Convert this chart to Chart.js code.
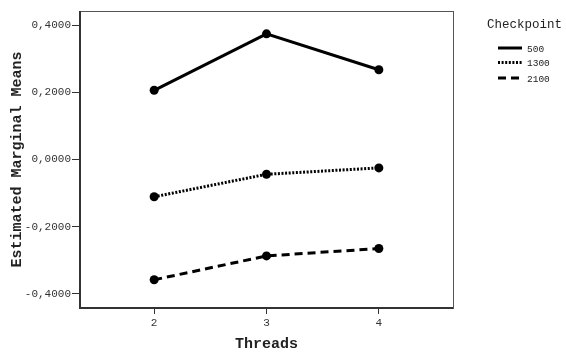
<!DOCTYPE html>
<html>
<head>
<meta charset="utf-8">
<script src="https://cdn.jsdelivr.net/npm/chart.js@4/dist/chart.umd.min.js"></script>
<style>
  html, body { margin: 0; padding: 0; background: #fff; }
  #wrap { width: 566px; height: 354px; }
</style>
</head>
<body>
<div id="wrap"><canvas id="myChart" width="566" height="354"></canvas></div>
<script>
// estimated marginal means per thread count, one series per checkpoint
var threads = [2, 3, 4];
var checkpoints = ['500', '1300', '2100'];
var means500 = [0.206, 0.374, 0.267];
var means1300 = [-0.111, -0.044, -0.025];
var means2100 = [-0.358, -0.287, -0.265];
var yTicks = [-0.4, -0.2, 0, 0.2, 0.4];

var FONT = '"Liberation Mono", "Courier New", monospace';
var dashes = [[], [2, 1.6], [8, 5]];
var series = [means500, means1300, means2100];

function toPoints(vals) {
  return threads.map(function (t, i) { return { x: t, y: vals[i] }; });
}

var datasets = checkpoints.map(function (name, i) {
  return {
    label: name,
    data: toPoints(series[i]),
    borderColor: '#000',
    backgroundColor: '#000',
    borderWidth: 3,
    borderDash: dashes[i],
    pointRadius: 4.5,
    pointHoverRadius: 4.5,
    pointBorderWidth: 0,
    tension: 0
  };
});

// frame round the plot area
var framePlugin = {
  id: 'frame',
  afterDraw: function (chart) {
    var a = chart.chartArea, ctx = chart.ctx;
    ctx.save();
    ctx.strokeStyle = '#555';
    ctx.lineWidth = 1;
    ctx.strokeRect(a.left + 0.5, a.top + 0.5, a.right - a.left, a.bottom - a.top);
    ctx.strokeStyle = '#333';
    ctx.lineWidth = 2;
    ctx.beginPath();
    ctx.moveTo(a.left, a.top);
    ctx.lineTo(a.left, a.bottom);
    ctx.lineTo(a.right, a.bottom);
    ctx.stroke();
    ctx.restore();
  }
};

// legend on the right, drawn from the dataset styles
var legendPlugin = {
  id: 'sideLegend',
  afterDraw: function (chart) {
    var ctx = chart.ctx;
    var rows = [48, 62.5, 78];
    ctx.save();
    ctx.fillStyle = '#222';
    ctx.font = '12.5px ' + FONT;
    ctx.textBaseline = 'middle';
    ctx.textAlign = 'left';
    ctx.fillText('Checkpoint', 487, 25);
    ctx.font = '9.5px ' + FONT;
    chart.data.datasets.forEach(function (ds, i) {
      var y = rows[i];
      ctx.strokeStyle = '#000';
      ctx.lineWidth = 3;
      ctx.setLineDash(ds.borderDash);
      ctx.beginPath();
      ctx.moveTo(498, y);
      ctx.lineTo(522, y);
      ctx.stroke();
      ctx.setLineDash([]);
      ctx.fillStyle = '#222';
      ctx.fillText(ds.label, 527, y + 1);
    });
    ctx.restore();
  }
};

var ctx = document.getElementById('myChart').getContext('2d');
var myChart = new Chart(ctx, {
  type: 'line',
  data: { datasets: datasets },
  options: {
    responsive: false,
    animation: false,
    layout: { padding: { left: 0, right: 113, top: 11, bottom: 0 } },
    plugins: { legend: { display: false }, tooltip: { enabled: false } },
    scales: {
      x: {
        type: 'linear',
        min: 1.34,
        max: 4.66,
        afterBuildTicks: function (s) { s.ticks = threads.map(function (v) { return { value: v }; }); },
        afterFit: function (s) { s.height = 46; },
        grid: { drawOnChartArea: false, tickLength: 6, color: '#333', lineWidth: 1 },
        border: { display: false },
        ticks: { color: '#333', font: { family: FONT, size: 11 }, padding: 2, maxRotation: 0 },
        title: { display: true, text: 'Threads', color: '#222', font: { family: FONT, size: 15, weight: 'bold' }, padding: { top: 3, bottom: 1 } }
      },
      y: {
        type: 'linear',
        min: -0.442,
        max: 0.442,
        afterBuildTicks: function (s) { s.ticks = yTicks.map(function (v) { return { value: v }; }); },
        afterFit: function (s) { s.width = 80; },
        grid: { drawOnChartArea: false, tickLength: 8, color: '#333', lineWidth: 1 },
        border: { display: false },
        ticks: {
          color: '#333',
          font: { family: FONT, size: 11 },
          padding: 1,
          callback: function (v) { return v.toFixed(4).replace('.', ','); }
        },
        title: { display: true, text: 'Estimated Marginal Means', color: '#222', font: { family: FONT, size: 15, weight: 'bold' }, padding: { top: 8, bottom: 0 } }
      }
    }
  },
  plugins: [framePlugin, legendPlugin]
});
</script>
</body>
</html>
